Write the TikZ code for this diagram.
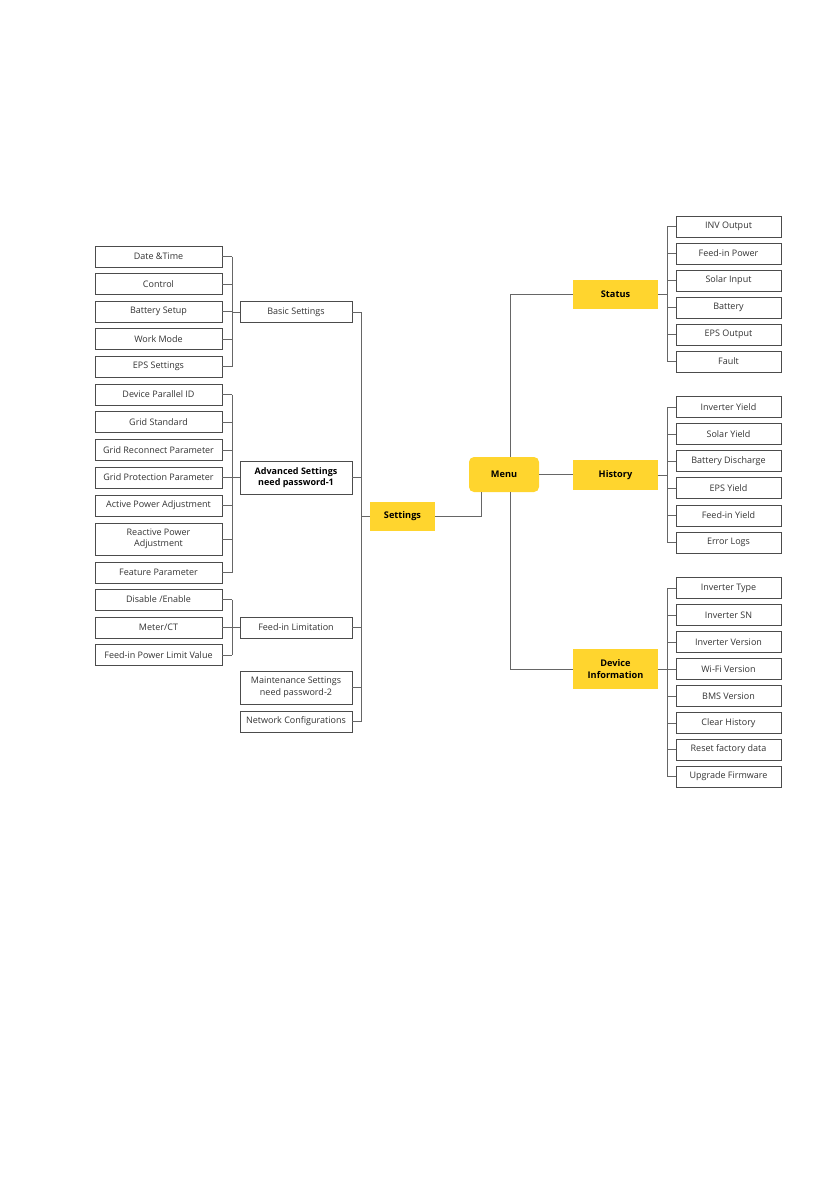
\documentclass[tikz,border=0pt]{standalone}
\usepackage{fontspec}
\setmainfont{Open Sans}
\usetikzlibrary{calc}
\definecolor{ylw}{HTML}{FFD52E}
\definecolor{txt}{HTML}{333333}
\definecolor{lne}{HTML}{666666}
\begin{document}
\begin{tikzpicture}[x=1pt,y=-1pt,
  every node/.style={font=\fontsize{9}{11.5}\selectfont, text=txt, align=center, inner sep=0pt},
  leaf/.style={draw=black!70, line width=0.9pt, fill=white, minimum height=21pt},
  lw/.style={leaf, minimum width=127pt},
  mw/.style={leaf, minimum width=112pt},
  rw/.style={leaf, minimum width=105pt},
  ybox/.style={fill=ylw, text=black, font=\fontsize{9.2}{11.5}\selectfont\bfseries},
  conn/.style={draw=lne, line width=0.8pt}]
\useasboundingbox (0,0) rectangle (840,1194);

% left column
\node[lw] (dt) at (158.5,256.5) {Date \&Time};
\node[lw] (ctl) at (158.5,284) {Control};
\node[lw] (bs) at (158.5,311.5) {Battery Setup};
\node[lw] (wm) at (158.5,339) {Work Mode};
\node[lw] (eps) at (158.5,366.5) {EPS Settings};
\node[lw] (dpi) at (158.5,394.5) {Device Parallel ID};
\node[lw] (gs) at (158.5,422) {Grid Standard};
\node[lw] (grp) at (158.5,450) {Grid Reconnect Parameter};
\node[lw] (gpp) at (158.5,477.5) {Grid Protection Parameter};
\node[lw] (apa) at (158.5,505.5) {Active Power Adjustment};
\node[lw, minimum height=32pt] (rpa) at (158.5,539) {Reactive Power\\Adjustment};
\node[lw] (fp) at (158.5,572.5) {Feature Parameter};
\node[lw] (de) at (158.5,599.5) {Disable /Enable};
\node[lw] (mct) at (158.5,627.5) {Meter/CT};
\node[lw] (fpl) at (158.5,655) {Feed-in Power Limit Value};

% middle column
\node[mw] (basic) at (296,312) {Basic Settings};
\node[mw, minimum height=33pt, font=\fontsize{9}{11.5}\selectfont\bfseries, text=black] (adv) at (296,477.5) {Advanced Settings\\need password-1};
\node[mw] (feed) at (296,627.5) {Feed-in Limitation};
\node[mw, minimum height=33pt] (maint) at (296,687.5) {Maintenance Settings\\need password-2};
\node[mw] (net) at (296,721.5) {Network Configurations};

% yellow
\node[ybox, minimum width=65pt, minimum height=29pt] (set) at (402.5,516.5) {Settings};
\node[ybox, minimum width=70pt, minimum height=35pt, rounded corners=5pt] (menu) at (504,474.5) {Menu};
\node[ybox, minimum width=85pt, minimum height=29pt] (status) at (615.5,294.5) {Status};
\node[ybox, minimum width=85pt, minimum height=30pt] (hist) at (615.5,475) {History};
\node[ybox, minimum width=85pt, minimum height=40pt] (dev) at (615.5,669) {Device\\Information};

% right column
\node[rw] (s1) at (728.5,226.5) {INV Output};
\node[rw] (s2) at (728.5,253.5) {Feed-in Power};
\node[rw] (s3) at (728.5,280.5) {Solar Input};
\node[rw] (s4) at (728.5,307.5) {Battery};
\node[rw] (s5) at (728.5,334.5) {EPS Output};
\node[rw] (s6) at (728.5,361.5) {Fault};
\node[rw] (h1) at (728.5,407) {Inverter Yield};
\node[rw] (h2) at (728.5,434) {Solar Yield};
\node[rw] (h3) at (728.5,461) {Battery Discharge};
\node[rw] (h4) at (728.5,488) {EPS Yield};
\node[rw] (h5) at (728.5,515.5) {Feed-in Yield};
\node[rw] (h6) at (728.5,542.5) {Error Logs};
\node[rw] (d1) at (728.5,588) {Inverter Type};
\node[rw] (d2) at (728.5,615) {Inverter SN};
\node[rw] (d3) at (728.5,642) {Inverter Version};
\node[rw] (d4) at (728.5,669) {Wi-Fi Version};
\node[rw] (d5) at (728.5,696) {BMS Version};
\node[rw] (d6) at (728.5,723) {Clear History};
\node[rw] (d7) at (728.5,749.5) {Reset factory data};
\node[rw] (d8) at (728.5,776.5) {Upgrade Firmware};

\coordinate (lb) at (232,0);
\coordinate (tr) at (361,0);
\coordinate (rb) at (667,0);
\coordinate (mx) at (510,0);
\coordinate (sx) at (481,0);

% left brackets
\foreach \c in {dt,ctl,bs,wm,eps} \draw[conn] (\c.east) -- (\c.east -| lb);
\draw[conn] (dt.east -| lb) -- (eps.east -| lb);
\draw[conn] (basic.west) -- (basic.west -| lb);
\foreach \c in {dpi,gs,grp,gpp,apa,rpa,fp} \draw[conn] (\c.east) -- (\c.east -| lb);
\draw[conn] (dpi.east -| lb) -- (fp.east -| lb);
\draw[conn] (adv.west) -- (adv.west -| lb);
\foreach \c in {de,mct,fpl} \draw[conn] (\c.east) -- (\c.east -| lb);
\draw[conn] (de.east -| lb) -- (fpl.east -| lb);
\draw[conn] (feed.west) -- (feed.west -| lb);

% trunk
\draw[conn] (basic.east) -- (basic.east -| tr) -- (net.east -| tr) -- (net.east);
\foreach \c in {adv,feed,maint} \draw[conn] (\c.east) -- (\c.east -| tr);
\draw[conn] (set.west) -- (set.west -| tr);

% settings to menu
\draw[conn] (set.east) -| (menu.south -| sx);
\draw[conn] (menu.north -| mx) |- (status.west);
\draw[conn] (menu.south -| mx) |- (dev.west);
\draw[conn] (menu.east) -- (menu.east -| hist.west);

% right brackets
\foreach \c in {s1,s2,s3,s4,s5,s6} \draw[conn] (\c.west) -- (\c.west -| rb);
\draw[conn] (s1.west -| rb) -- (s6.west -| rb);
\draw[conn] (status.east) -- (status.east -| rb);
\foreach \c in {h1,h2,h3,h4,h5,h6} \draw[conn] (\c.west) -- (\c.west -| rb);
\draw[conn] (h1.west -| rb) -- (h6.west -| rb);
\draw[conn] (hist.east) -- (hist.east -| rb);
\foreach \c in {d1,d2,d3,d4,d5,d6,d7,d8} \draw[conn] (\c.west) -- (\c.west -| rb);
\draw[conn] (d1.west -| rb) -- (d8.west -| rb);
\draw[conn] (dev.east) -- (dev.east -| rb);
\end{tikzpicture}
\end{document}
